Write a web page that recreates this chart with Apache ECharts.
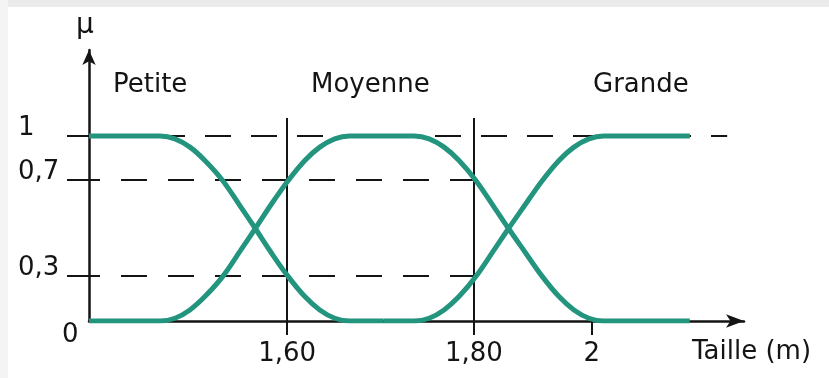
<!DOCTYPE html>
<html>
<head>
<meta charset="utf-8">
<title>Taille - fonctions d'appartenance</title>
<script src="https://cdn.jsdelivr.net/npm/echarts@6/dist/echarts.min.js"></script>
<style>
  html, body { margin: 0; padding: 0; background: #fff; }
  #chart { width: 829px; height: 378px; }
</style>
</head>
<body>
<div id="chart"></div>
<script>
// schéma : l'axe n'est pas à l'échelle, les graduations sont placées comme sur l'image
const xMin = 1.388
const xMax = 2.089
const yMax = 1.465

const xTickValues = [1.60, 1.80, 1.926]
const xTickLabels = ['1,60', '1,80', '2']
const yTickValues = [0, 0.243, 0.762, 1]
const yTickLabels = ['0', '0,3', '0,7', '1']

const taillePetite = [1.388, 1.464, 1.480, 1.496, 1.512, 1.531, 1.550, 1.566, 1.582, 1.600, 1.619, 1.635, 1.651, 1.667, 1.703]
const muPetite = [1, 1, 0.985, 0.94, 0.868, 0.76, 0.62, 0.5, 0.377, 0.248, 0.132, 0.06, 0.015, 0, 0]

const tailleMoyenne = [1.388, 1.464, 1.480, 1.496, 1.512, 1.531, 1.550, 1.566, 1.582, 1.600, 1.619, 1.635, 1.651, 1.667, 1.703,
  1.736, 1.752, 1.768, 1.784, 1.802, 1.821, 1.837, 1.854, 1.872, 1.891, 1.907, 1.923, 1.939, 2.031]
const muMoyenne = [0, 0, 0.015, 0.06, 0.132, 0.24, 0.38, 0.5, 0.623, 0.752, 0.868, 0.94, 0.985, 1, 1,
  1, 0.985, 0.94, 0.868, 0.76, 0.62, 0.5, 0.377, 0.248, 0.132, 0.06, 0.015, 0, 0]

const tailleGrande = [1.703, 1.736, 1.752, 1.768, 1.784, 1.802, 1.821, 1.837, 1.854, 1.872, 1.891, 1.907, 1.923, 1.939, 2.031]
const muGrande = [0, 0, 0.015, 0.06, 0.132, 0.24, 0.38, 0.5, 0.623, 0.752, 0.868, 0.94, 0.985, 1, 1]

const classes = ['Petite', 'Moyenne', 'Grande']

const font = 'DejaVu Sans'
const teal = '#23947e'
const ink = '#141414'

const zip = (xs, ys) => xs.map((x, i) => [x, ys[i]])
const labelFor = (values, labels) => (v) => {
  let best = 0
  values.forEach((t, i) => { if (Math.abs(t - v) < Math.abs(values[best] - v)) best = i })
  return labels[best]
}
const yLabel = labelFor(yTickValues, yTickLabels)
const xLabel = labelFor(xTickValues, xTickLabels)

const curve = (name, xs, ys) => ({
  name: name,
  type: 'line',
  data: zip(xs, ys),
  smooth: 0.35,
  symbol: 'none',
  z: 3,
  lineStyle: { color: teal, width: 5 },
  silent: true
})

const chart = echarts.init(document.getElementById('chart'))

const option = {
  backgroundColor: '#fff',
  animation: false,
  grid: {
    left: 89,
    right: 85,
    top: 50,
    bottom: 57,
    outerBoundsMode: 'none'
  },
  xAxis: {
    type: 'value',
    min: xMin,
    max: xMax,
    name: 'Taille (m)',
    nameLocation: 'end',
    nameGap: -52,
    nameTextStyle: {
      fontFamily: font,
      fontSize: 26,
      color: ink,
      align: 'left',
      verticalAlign: 'top',
      padding: [18, 0, 0, 0]
    },
    axisLine: {
      onZero: false,
      symbol: ['none', 'arrow'],
      symbolSize: [10, 18],
      lineStyle: { color: ink, width: 2.5 }
    },
    axisTick: {
      show: true,
      customValues: xTickValues,
      length: 14,
      lineStyle: { color: ink, width: 2 }
    },
    axisLabel: {
      customValues: xTickValues,
      formatter: xLabel,
      margin: 20,
      fontFamily: font,
      fontSize: 26,
      color: ink
    },
    splitLine: { show: false }
  },
  yAxis: {
    type: 'value',
    min: 0,
    max: yMax,
    name: 'μ',
    nameLocation: 'end',
    nameGap: 10,
    nameTextStyle: {
      fontFamily: font,
      fontSize: 28,
      color: ink,
      padding: [0, 8, 0, 0]
    },
    axisLine: {
      onZero: false,
      symbol: ['none', 'arrow'],
      symbolSize: [10, 15],
      lineStyle: { color: ink, width: 2.5 }
    },
    axisTick: {
      show: true,
      customValues: yTickValues.slice(1),
      length: 22,
      lineStyle: { color: ink, width: 2 }
    },
    axisLabel: {
      customValues: yTickValues,
      formatter: (v) => (v === 0 ? '{z|' + yLabel(v) + '}' : '{n|' + yLabel(v) + '}'),
      margin: 71,
      align: 'left',
      verticalAlign: 'middle',
      fontFamily: font,
      fontSize: 26,
      color: ink,
      rich: {
        n: { fontFamily: font, fontSize: 26, color: ink, padding: [0, 0, 16, 0] },
        z: { fontFamily: font, fontSize: 26, color: ink, padding: [28, 0, 0, 44] }
      }
    },
    splitLine: { show: false }
  },
  graphic: [
    { type: 'rect', shape: { x: 0, y: 0, width: 829, height: 7 }, style: { fill: '#ebebeb' }, silent: true },
    { type: 'rect', shape: { x: 0, y: 0, width: 8, height: 378 }, style: { fill: '#f4f4f4' }, silent: true },
    { type: 'text', left: 113, top: 72, style: { text: classes[0], font: '26px "' + font + '"', fill: ink } },
    { type: 'text', left: 311, top: 72, style: { text: classes[1], font: '26px "' + font + '"', fill: ink } },
    { type: 'text', left: 593, top: 72, style: { text: classes[2], font: '26px "' + font + '"', fill: ink } }
  ],
  series: [
    {
      name: 'repères',
      type: 'line',
      data: [],
      z: 1,
      silent: true,
      markLine: {
        silent: true,
        z: 1,
        symbol: 'none',
        label: { show: false },
        animation: false,
        data: [
          [{ coord: [xMin, 1], lineStyle: { type: [26, 20], dashOffset: 22, color: ink, width: 2.2 } }, { coord: [2.071, 1] }],
          [{ coord: [xMin, yTickValues[2]], lineStyle: { type: [26, 21], dashOffset: 15, color: ink, width: 2.2 } }, { coord: [xTickValues[1], yTickValues[2]] }],
          [{ coord: [xMin, yTickValues[1]], lineStyle: { type: [26, 21], dashOffset: 15, color: ink, width: 2.2 } }, { coord: [xTickValues[1], yTickValues[1]] }],
          [{ coord: [xTickValues[0], 0], lineStyle: { type: 'solid', color: ink, width: 2 } }, { coord: [xTickValues[0], 1.097] }],
          [{ coord: [xTickValues[1], 0], lineStyle: { type: 'solid', color: ink, width: 2 } }, { coord: [xTickValues[1], 1.097] }]
        ]
      }
    },
    curve(classes[0], taillePetite, muPetite),
    curve(classes[1], tailleMoyenne, muMoyenne),
    curve(classes[2], tailleGrande, muGrande)
  ]
}

chart.setOption(option)
</script>
</body>
</html>
